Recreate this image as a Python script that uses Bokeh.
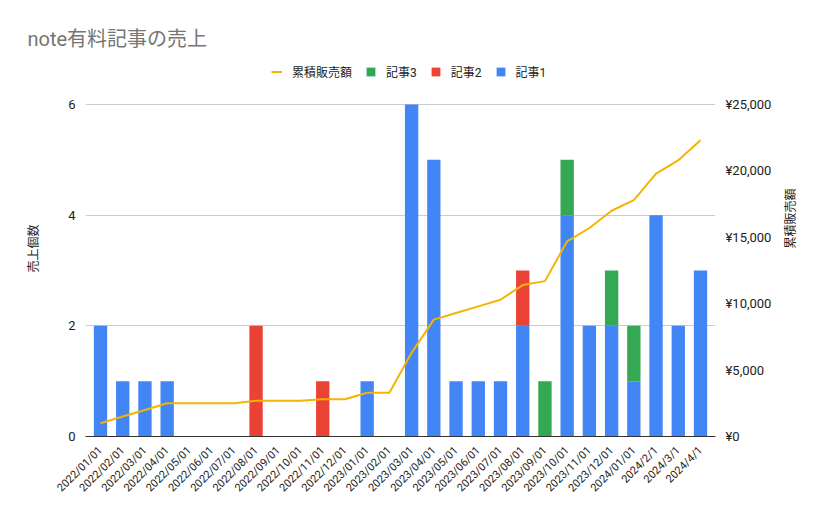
from bokeh.plotting import figure
from bokeh.models import (ColumnDataSource, FactorRange, Range1d, LinearAxis,
                          Legend, LegendItem, FixedTicker)
from bokeh.embed import file_html
from bokeh.resources import INLINE
import math

dates = ["2022/01/01", "2022/02/01", "2022/03/01", "2022/04/01", "2022/05/01",
         "2022/06/01", "2022/07/01", "2022/08/01", "2022/09/01", "2022/10/01",
         "2022/11/01", "2022/12/01", "2023/01/01", "2023/02/01", "2023/03/01",
         "2023/04/01", "2023/05/01", "2023/06/01", "2023/07/01", "2023/08/01",
         "2023/09/01", "2023/10/01", "2023/11/01", "2023/12/01", "2024/01/01",
         "2024/2/1", "2024/3/1", "2024/4/1"]
article1 = [2, 1, 1, 1, 0, 0, 0, 0, 0, 0, 0, 0,
            1, 0, 6, 5, 1, 1, 1, 2, 0, 4, 2, 2,
            1, 4, 2, 3]
article2 = [0, 0, 0, 0, 0, 0, 0, 2, 0, 0, 1, 0,
            0, 0, 0, 0, 0, 0, 0, 1, 0, 0, 0, 0,
            0, 0, 0, 0]
article3 = [0, 0, 0, 0, 0, 0, 0, 0, 0, 0, 0, 0,
            0, 0, 0, 0, 0, 0, 0, 0, 1, 1, 0, 1,
            1, 0, 0, 0]
cumulative = [1000, 1500, 2000, 2500, 2500, 2500, 2500, 2700, 2700, 2700, 2800, 2800,
              3300, 3300, 6300, 8800, 9300, 9800, 10300, 11400, 11700, 14700, 15700, 17000,
              17800, 19800, 20800, 22300]
left_ticks = [0, 2, 4, 6]
right_ticks = [0, 5000, 10000, 15000, 20000, 25000]
right_tick_labels = ["¥0", "¥5,000", "¥10,000", "¥15,000", "¥20,000", "¥25,000"]

FONT = "Roboto, 'Noto Sans CJK JP', sans-serif"
C1, C2, C3, CL = "#4285f4", "#ea4335", "#34a853", "#f4b400"

# layout: the value area (0..6) spans 332 px; the frame also holds the legend above it
AREA_H = 332
FRAME_H = 376
TOP_FRAC = FRAME_H / AREA_H

src = ColumnDataSource(dict(date=dates, a1=article1, a2=article2, a3=article3, cum=cumulative))

p = figure(x_range=FactorRange(factors=dates, range_padding=0.0125),
           y_range=Range1d(0, max(left_ticks) * TOP_FRAC),
           width=808, height=502, frame_width=630, frame_height=FRAME_H,
           min_border_left=85, min_border_top=60, min_border_right=93, min_border_bottom=66,
           output_backend="svg", toolbar_location=None,
           title="note有料記事の売上")
p.extra_y_ranges = {"yen": Range1d(0, max(right_ticks) * TOP_FRAC)}

bars = p.vbar_stack(["a1", "a2", "a3"], x="date", width=0.6, source=src,
                    color=[C1, C2, C3], line_color=None)
line = p.line("date", "cum", source=src, y_range_name="yen", line_color=CL, line_width=2)

# title
p.title.text_font = FONT
p.title.text_font_size = "20px"
p.title.text_font_style = "normal"
p.title.text_color = "#757575"
p.title.offset = -58
p.title.standoff = 20

# left axis
ya = p.yaxis[0]
ya.ticker = FixedTicker(ticks=left_ticks)
ya.axis_label = "売上個数"
ya.axis_line_color = None
ya.major_tick_line_color = None
ya.minor_tick_line_color = None
ya.major_label_standoff = 4
ya.axis_label_standoff = 24
ya.major_label_text_font = FONT
ya.major_label_text_font_size = "13px"
ya.major_label_text_color = "#222222"
ya.axis_label_text_font = FONT
ya.axis_label_text_font_size = "12px"
ya.axis_label_text_font_style = "normal"
ya.axis_label_text_color = "#222222"

# right axis
ra = LinearAxis(y_range_name="yen", ticker=FixedTicker(ticks=right_ticks),
                major_label_overrides=dict(zip(right_ticks, right_tick_labels)),
                axis_label="累積販売額")
ra.axis_line_color = None
ra.major_tick_line_color = None
ra.minor_tick_line_color = None
ra.major_label_standoff = 4
ra.axis_label_standoff = 17
ra.major_label_text_font = FONT
ra.major_label_text_font_size = "13px"
ra.major_label_text_color = "#222222"
ra.axis_label_text_font = FONT
ra.axis_label_text_font_size = "12px"
ra.axis_label_text_font_style = "normal"
ra.axis_label_text_color = "#222222"
if "axis_label_orientation" in ra.properties():
    ra.axis_label_orientation = math.pi / 2
p.add_layout(ra, "right")

# bottom axis
xa = p.xaxis[0]
xa.major_label_orientation = math.pi / 4
xa.axis_line_color = "#333333"
xa.axis_line_width = 1
xa.major_tick_line_color = None
xa.minor_tick_line_color = None
xa.major_label_standoff = 6
xa.major_label_text_font = FONT
xa.major_label_text_font_size = "11px"
xa.major_label_text_color = "#222222"

p.xgrid.grid_line_color = None
p.ygrid.grid_line_color = "#cccccc"
p.ygrid.ticker = FixedTicker(ticks=left_ticks)
p.outline_line_color = None

legend = Legend(items=[
    LegendItem(label="累積販売額", renderers=[line]),
    LegendItem(label="記事3", renderers=[bars[2]]),
    LegendItem(label="記事2", renderers=[bars[1]]),
    LegendItem(label="記事1", renderers=[bars[0]]),
], orientation="horizontal", location=(186, 356))
legend.glyph_width = 11
legend.glyph_height = 11
legend.label_standoff = 10
legend.spacing = 13
legend.padding = 0
legend.margin = 0
legend.border_line_color = None
legend.background_fill_alpha = 0
legend.label_text_font = FONT
legend.label_text_font_size = "12px"
legend.label_text_color = "#222222"
p.add_layout(legend, "center")

open("out.html", "w").write(file_html(p, INLINE))
